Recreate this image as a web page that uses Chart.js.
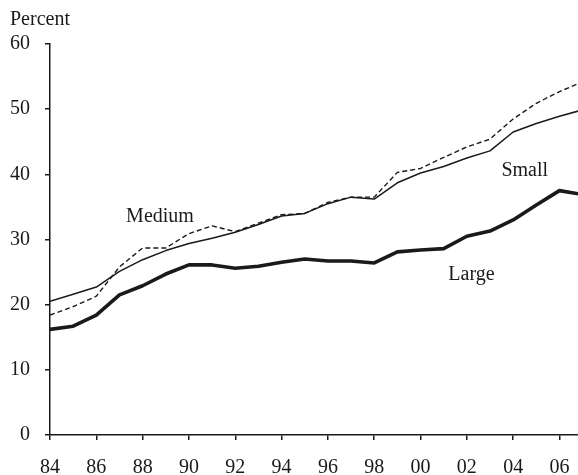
<!DOCTYPE html>
<html>
<head>
<meta charset="utf-8">
<script src="https://cdn.jsdelivr.net/npm/chart.js@4"></script>
<style>
  html, body { margin: 0; padding: 0; background: #fff; }
  #wrap { width: 578px; height: 475px; }
</style>
</head>
<body>
<div id="wrap"><canvas id="linechart" width="578" height="475"></canvas></div>
<script>
const years = [1984, 1985, 1986, 1987, 1988, 1989, 1990, 1991, 1992, 1993, 1994, 1995,
               1996, 1997, 1998, 1999, 2000, 2001, 2002, 2003, 2004, 2005, 2006, 2007];
const small = [20.5, 21.6, 22.7, 25.1, 26.9, 28.3, 29.4, 30.2, 31.1, 32.3, 33.6, 34.0,
               35.5, 36.5, 36.2, 38.7, 40.2, 41.2, 42.5, 43.6, 46.5, 47.8, 48.9, 49.9];
const medium = [18.4, 19.7, 21.3, 25.8, 28.7, 28.7, 30.9, 32.1, 31.2, 32.5, 33.8, 34.0,
                35.7, 36.5, 36.5, 40.3, 40.9, 42.6, 44.2, 45.4, 48.5, 50.9, 52.7, 54.2];
const large = [16.2, 16.7, 18.4, 21.5, 22.9, 24.7, 26.1, 26.1, 25.6, 25.9, 26.5, 27.0,
               26.7, 26.7, 26.4, 28.1, 28.4, 28.6, 30.5, 31.3, 33.0, 35.3, 37.5, 36.9];
const xTicks = [1984, 1986, 1988, 1990, 1992, 1994, 1996, 1998, 2000, 2002, 2004, 2006];
const yTicks = [0, 10, 20, 30, 40, 50, 60];

const seriesLabels = [
  { text: "Medium", x: 1988.75, y: 33.5 },
  { text: "Small", x: 2004.5, y: 40.6 },
  { text: "Large", x: 2002.2, y: 24.6 }
];

const font = "20px 'Liberation Serif', 'DejaVu Serif', serif";
const ink = "#1a1a1a";

const toPoints = (vals) => vals.map((v, i) => ({ x: years[i], y: v }));

const labelPlugin = {
  id: "seriesLabels",
  afterDraw(chart) {
    const ctx = chart.ctx;
    const xs = chart.scales.x, ys = chart.scales.y;
    ctx.save();
    ctx.font = font;
    ctx.fillStyle = ink;
    ctx.textAlign = "center";
    ctx.textBaseline = "middle";
    seriesLabels.forEach(l => {
      ctx.fillText(l.text, xs.getPixelForValue(l.x), ys.getPixelForValue(l.y));
    });
    ctx.textAlign = "left";
    ctx.fillText("Percent", 10, 20);
    ctx.restore();
  }
};

new Chart(document.getElementById("linechart"), {
  type: "line",
  data: {
    datasets: [
      { label: "Small", data: toPoints(small), borderColor: ink, borderWidth: 1.5 },
      { label: "Medium", data: toPoints(medium), borderColor: ink, borderWidth: 1.4, borderDash: [5, 3] },
      { label: "Large", data: toPoints(large), borderColor: ink, borderWidth: 3.6 }
    ]
  },
  options: {
    responsive: false,
    animation: false,
    layout: { padding: { top: 44, right: 0, left: 0, bottom: 0 } },
    elements: { point: { radius: 0 }, line: { tension: 0, borderJoinStyle: "round" } },
    plugins: { legend: { display: false }, tooltip: { enabled: false } },
    scales: {
      x: {
        type: "linear",
        min: 1984,
        max: 2006.8,
        afterBuildTicks: (s) => { s.ticks = xTicks.map(v => ({ value: v })); },
        afterFit: (s) => { s.height = 40; s.paddingRight = 0; s.paddingLeft = 0; },
        border: { display: true, color: ink, width: 1.5 },
        grid: { display: true, drawOnChartArea: false, drawTicks: true, tickLength: 5, color: ink, lineWidth: 1.5 },
        ticks: {
          color: ink,
          font: { family: "'Liberation Serif', serif", size: 20 },
          padding: 16,
          maxRotation: 0,
          callback: (v) => String(v % 100).padStart(2, "0")
        }
      },
      y: {
        min: 0,
        max: 60,
        afterBuildTicks: (s) => { s.ticks = yTicks.map(v => ({ value: v })); },
        afterFit: (s) => { s.width = 50; s.paddingTop = 0; s.paddingBottom = 0; },
        border: { display: true, color: ink, width: 1.5 },
        grid: { display: true, drawOnChartArea: false, drawTicks: true, tickLength: 5, color: ink, lineWidth: 1.5 },
        ticks: {
          color: ink,
          font: { family: "'Liberation Serif', serif", size: 20 },
          padding: 15
        }
      }
    }
  },
  plugins: [labelPlugin]
});
</script>
</body>
</html>
